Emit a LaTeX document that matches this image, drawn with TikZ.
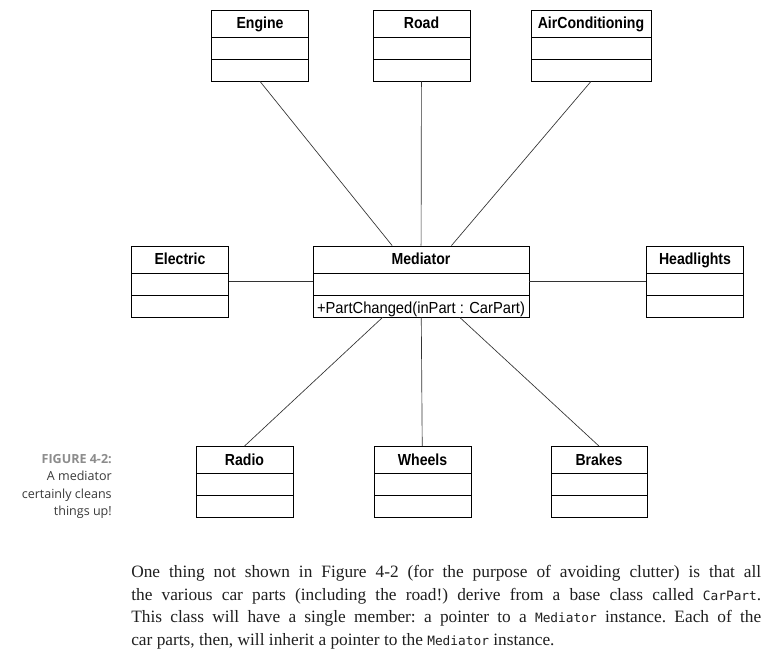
\documentclass[tikz,border=0pt]{standalone}
\usepackage{fontspec}
\usepackage{xcolor}
\setmainfont{Liberation Serif}
\setmonofont[Scale=0.74]{DejaVu Sans Mono}
\newfontfamily\classfont[FakeStretch=0.88]{Liberation Sans}
\newfontfamily\methodfont[FakeStretch=0.92]{Liberation Sans}
\newfontfamily\captionfont{Open Sans}
\definecolor{caption-gray}{HTML}{8C8C8C}
\definecolor{caption-text}{HTML}{3A3A3A}
\definecolor{link-gray}{HTML}{333333}
\tikzset{
    class-box/.style = {draw=black, line width=0.6pt, fill=white, rectangle, minimum width=#1, inner sep=0pt, text height=13.9pt, text depth=39.35pt, font=\classfont\bfseries\fontsize{12}{14}\selectfont,
        path picture={\draw ([yshift=-20.25pt]path picture bounding box.north west) -- ([yshift=-20.25pt]path picture bounding box.north east)
            ([yshift=-36.75pt]path picture bounding box.north west) -- ([yshift=-36.75pt]path picture bounding box.north east);}},
    class-box/.default = 72.75pt,
    class-method/.style = {font=\methodfont\fontsize{12}{14}\selectfont, inner sep=0pt, anchor=base},
    link/.style = {draw=link-gray, line width=0.5pt},
    figure-caption/.style = {align=right, inner sep=0pt, text=caption-text, font=\captionfont\fontsize{9.4}{13}\selectfont},
    body-text/.style = {text width=472.5pt, align=justify, inner sep=0pt, text=black!88, font=\fontsize{13}{16.9}\selectfont\frenchspacing},
}

\begin{document}
\begin{tikzpicture}[x=0.75pt, y=-0.75pt]
\fill[white] (0,0) rectangle (768,656);
\useasboundingbox (0,0) rectangle (768,656);

\node[class-box] (engine) at (260,45.5) {Engine};
\node[class-box] (road) at (421.5,45.5) {Road};
\node[class-box=90pt] (aircon) at (591,45.5) {AirConditioning};
\node[class-box] (electric) at (180,281.5) {Electric};
\node[class-box=162pt] (mediator) at (421,281.5) {Mediator};
\node[class-box] (headlights) at (695,281.5) {Headlights};
\node[class-box] (radio) at (244.5,482) {Radio};
\node[class-box] (wheels) at (422.5,482) {Wheels};
\node[class-box=72pt] (brakes) at (599,482) {Brakes};
\node[class-method] (part-changed) at ([yshift=2.6pt]mediator.south) {+PartChanged(inPart : CarPart)};

\draw[link] (engine.south) -- (mediator);
\draw[link] (road) -- (mediator);
\draw[link] (aircon.south) -- (mediator);
\draw[link] (electric) -- (mediator);
\draw[link] (headlights) -- (mediator);
\draw[link] (radio.north) -- (mediator);
\draw[link] (wheels) -- (mediator);
\draw[link] (brakes.north) -- (mediator);

\node[figure-caption, anchor=north east] (caption) at (112,454) {\textcolor{caption-gray}{\bfseries FIGURE 4-2:}\\A mediator\\certainly cleans\\things up!};

\node[body-text, anchor=north west] (paragraph) at (131,565) {One thing not shown in Figure 4-2 (for the purpose of avoiding clutter) is that all\linebreak
the various car parts (including the road!) derive from a base class called \texttt{CarPart}.\linebreak
This class will have a single member: a pointer to a \texttt{Mediator} instance. Each of the\linebreak
car parts, then, will inherit a pointer to the \texttt{Mediator} instance.};
\end{tikzpicture}
\end{document}
